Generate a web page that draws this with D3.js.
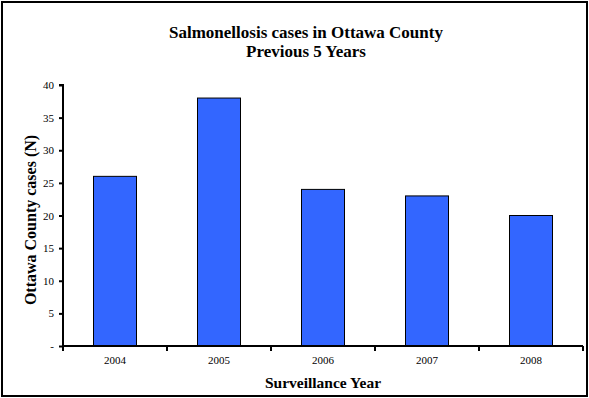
<!DOCTYPE html>
<html><head><meta charset="utf-8">
<script src="https://cdn.jsdelivr.net/npm/d3@7"></script>
<style>body{margin:0;background:#fff}svg{display:block}</style>
</head><body>
<script>
const years = ["2004","2005","2006","2007","2008"];
const cases = [26, 38, 24, 23, 20];
const yTicks = [0,5,10,15,20,25,30,35,40];
const titleLines = ["Salmonellosis cases in Ottawa County","Previous 5 Years"];

const W=589,H=398;
const svg=d3.select("body").append("svg").attr("width",W).attr("height",H);
svg.append("rect").attr("x",2).attr("y",2).attr("width",W-4).attr("height",H-4)
  .attr("fill","#fff").attr("stroke","#000").attr("stroke-width",2);

const m={l:63,r:583,t:85,b:346};
const x=d3.scaleBand().domain(years).range([m.l,m.r]).paddingInner(0).paddingOuter(0);
const y=d3.scaleLinear().domain([0,40]).range([m.b,m.t]);
const font="'Liberation Serif','Times New Roman',serif";

// bars
const bw=43;
svg.selectAll("rect.bar").data(years).enter().append("rect").attr("class","bar")
  .attr("x",d=>x(d)+x.bandwidth()/2-bw/2).attr("width",bw)
  .attr("y",(d,i)=>y(cases[i])).attr("height",(d,i)=>y(0)-y(cases[i]))
  .attr("fill","#3366FF").attr("stroke","#000").attr("stroke-width",1);

// y axis
const ya=d3.axisLeft(y).tickValues(yTicks).tickSize(4).tickPadding(5)
  .tickFormat(d=>d===0?"-":d);
const gy=svg.append("g").attr("transform",`translate(${m.l},0)`).call(ya);
gy.select(".domain").attr("stroke-width",2).attr("d",`M-4,${m.t}H0V${m.b}`);
gy.selectAll(".tick line").attr("stroke-width",2);
gy.selectAll("text").attr("font-family",font).attr("font-size",11).attr("fill","#000");

// x axis
const gx=svg.append("g").attr("transform",`translate(0,${m.b})`);
gx.append("line").attr("x1",m.l).attr("x2",m.r).attr("stroke","#000").attr("stroke-width",2);
const bounds=years.map(d=>x(d)).concat([m.r]);
gx.selectAll("line.tk").data(bounds).enter().append("line").attr("class","tk")
  .attr("x1",d=>d).attr("x2",d=>d).attr("y1",0).attr("y2",5).attr("stroke","#000").attr("stroke-width",2);
gx.selectAll("text").data(years).enter().append("text")
  .attr("x",d=>x(d)+x.bandwidth()/2).attr("y",18).attr("text-anchor","middle")
  .attr("font-family",font).attr("font-size",11).text(d=>d);

// titles
svg.selectAll("text.title").data(titleLines).enter().append("text").attr("class","title")
  .attr("x",306).attr("y",(d,i)=>38+i*19).attr("text-anchor","middle")
  .attr("font-family",font).attr("font-size",17).attr("font-weight","bold").text(d=>d);

svg.append("text").attr("x",(m.l+m.r)/2).attr("y",388).attr("text-anchor","middle")
  .attr("font-family",font).attr("font-size",15.5).attr("font-weight","bold").text("Surveillance Year");

svg.append("text").attr("transform",`translate(36,220) rotate(-90)`).attr("text-anchor","middle")
  .attr("font-family",font).attr("font-size",16).attr("font-weight","bold").text("Ottawa County cases (N)");
</script>
</body></html>
